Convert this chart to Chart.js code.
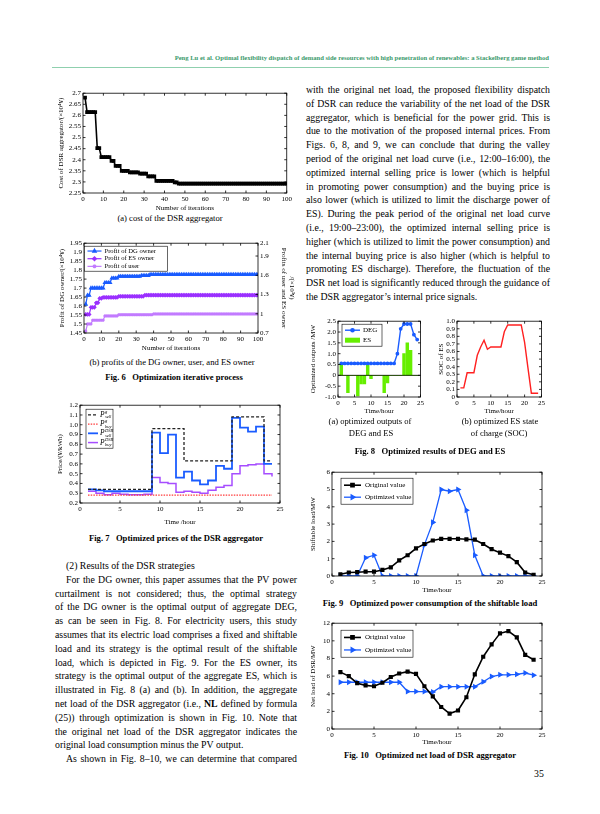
<!doctype html>
<html lang="en">
<head>
<meta charset="utf-8">
<title>DSR aggregator page</title>
<script src="https://cdn.jsdelivr.net/npm/chart.js"></script>
<style>
  body{margin:0;width:600px;height:814px;position:relative;overflow:hidden;background:#fff;
    font-family:"Liberation Serif","Times New Roman",serif;color:#000}
  canvas{position:absolute}
  #hdr{position:absolute;right:51px;top:54px;font-size:6.6px;line-height:8px;font-weight:bold;color:#3c9a6c;white-space:nowrap}
  #hline{position:absolute;left:52px;top:67px;width:497px;border-top:1px solid #8fd0ae}
  .cap{position:absolute;width:300px;margin-left:-150px;text-align:center;font-size:8.6px;line-height:10px;white-space:nowrap}
  .cap.b{font-weight:bold}
  .tx{position:absolute;font-size:9.8px;line-height:13.8px}
  .tx div{height:13.8px;text-align:justify;text-align-last:justify}
  .tx div.l{text-align-last:left}
  .tx div.i{text-indent:11px}
  #pg{position:absolute;left:534px;top:768px;font-size:9.8px}
</style>
</head>
<body>
<div id="hdr">Peng Lu et al. Optimal flexibility dispatch of demand side resources with high penetration of renewables: a Stackelberg game method</div>
<div id="hline"></div>

<canvas id="c6a"></canvas>
<div class="cap" style="left:170px;top:213px">(a) cost of the DSR aggregator</div>
<canvas id="c6b"></canvas>
<div class="cap" style="left:172px;top:357px">(b) profits of the DG owner, user, and ES owner</div>
<div class="cap b" style="left:174px;top:372px">Fig. 6&nbsp;&nbsp;&nbsp;Optimization iterative process</div>
<canvas id="c7"></canvas>
<div class="cap b" style="left:176px;top:533px">Fig. 7&nbsp;&nbsp;&nbsp;Optimized prices of the DSR aggregator</div>

<div class="tx" style="left:55px;top:559px;width:242px">
  <div class="i l">(2) Results of the DSR strategies</div>
  <div class="i">For the DG owner, this paper assumes that the PV power</div>
  <div>curtailment is not considered; thus, the optimal strategy</div>
  <div>of the DG owner is the optimal output of aggregate DEG,</div>
  <div>as can be seen in Fig. 8. For electricity users, this study</div>
  <div>assumes that its electric load comprises a fixed and shiftable</div>
  <div>load and its strategy is the optimal result of the shiftable</div>
  <div>load, which is depicted in Fig. 9. For the ES owner, its</div>
  <div>strategy is the optimal output of the aggregate ES, which is</div>
  <div>illustrated in Fig. 8 (a) and (b). In addition, the aggregate</div>
  <div>net load of the DSR aggregator (i.e., <b>NL</b> defined by formula</div>
  <div>(25)) through optimization is shown in Fig. 10. Note that</div>
  <div>the original net load of the DSR aggregator indicates the</div>
  <div class="l">original load consumption minus the PV output.</div>
  <div class="i">As shown in Fig. 8–10, we can determine that compared</div>
</div>

<div class="tx" style="left:306px;top:83px;width:244px">
  <div>with the original net load, the proposed flexibility dispatch</div>
  <div>of DSR can reduce the variability of the net load of the DSR</div>
  <div>aggregator, which is beneficial for the power grid. This is</div>
  <div>due to the motivation of the proposed internal prices. From</div>
  <div>Figs. 6, 8, and 9, we can conclude that during the valley</div>
  <div>period of the original net load curve (i.e., 12:00–16:00), the</div>
  <div>optimized internal selling price is lower (which is helpful</div>
  <div>in promoting power consumption) and the buying price is</div>
  <div>also lower (which is utilized to limit the discharge power of</div>
  <div>ES). During the peak period of the original net load curve</div>
  <div>(i.e., 19:00–23:00), the optimized internal selling price is</div>
  <div>higher (which is utilized to limit the power consumption) and</div>
  <div>the internal buying price is also higher (which is helpful to</div>
  <div>promoting ES discharge). Therefore, the fluctuation of the</div>
  <div>DSR net load is significantly reduced through the guidance of</div>
  <div class="l">the DSR aggregator’s internal price signals.</div>
</div>

<canvas id="c8a"></canvas>
<canvas id="c8b"></canvas>
<div class="cap" style="left:370px;top:416px">(a) optimized outputs of</div>
<div class="cap" style="left:371px;top:428px">DEG and ES</div>
<div class="cap" style="left:500px;top:416px">(b) optimized ES state</div>
<div class="cap" style="left:499px;top:428px">of charge (SOC)</div>
<div class="cap b" style="left:430px;top:446px">Fig. 8&nbsp;&nbsp;&nbsp;Optimized results of DEG and ES</div>
<canvas id="c9"></canvas>
<div class="cap b" style="left:430px;top:598px">Fig. 9&nbsp;&nbsp;&nbsp;Optimized power consumption of the shiftable load</div>
<canvas id="c10"></canvas>
<div class="cap b" style="left:430px;top:750px">Fig. 10&nbsp;&nbsp;&nbsp;Optimized net load of DSR aggregator</div>
<div id="pg">35</div>

<script>
// ---- data ----
const iterations = Array.from({length: 100}, (_, i) => i + 1);
const hours = [1,2,3,4,5,6,7,8,9,10,11,12,13,14,15,16,17,18,19,20,21,22,23,24];

// Fig 6(a) cost of the DSR aggregator (x10^4)
const costDSR = [
  2.68, 2.615, 2.615, 2.615, 2.615, 2.615, 2.452, 2.452, 2.412, 2.412,
  2.412, 2.412, 2.412, 2.395, 2.395, 2.372, 2.372, 2.372, 2.35, 2.35,
  2.35, 2.35, 2.343, 2.343, 2.343, 2.343, 2.343, 2.337, 2.337, 2.337,
  2.337, 2.325, 2.325, 2.325, 2.325, 2.305, 2.305, 2.305, 2.305, 2.305,
  2.305, 2.305, 2.305, 2.305, 2.298, 2.298, 2.292, 2.292, 2.292, 2.292,
  2.292, 2.292, 2.292, 2.292, 2.292, 2.292, 2.292, 2.292, 2.292, 2.292,
  2.292, 2.292, 2.292, 2.292, 2.292, 2.292, 2.292, 2.292, 2.292, 2.292,
  2.292, 2.292, 2.292, 2.292, 2.292, 2.292, 2.292, 2.292, 2.292, 2.292,
  2.292, 2.292, 2.292, 2.292, 2.292, 2.292, 2.292, 2.292, 2.292, 2.292,
  2.292, 2.292, 2.292, 2.292, 2.292, 2.292, 2.292, 2.292, 2.292, 2.292
];

// Fig 6(b) profits
const profitDG = [
  1.61, 1.66, 1.66, 1.70, 1.70, 1.70, 1.70, 1.70, 1.70, 1.70,
  1.70, 1.73, 1.73, 1.73, 1.73, 1.755, 1.755, 1.755, 1.755, 1.765,
  1.765, 1.765, 1.765, 1.765, 1.765, 1.765, 1.765, 1.765, 1.765, 1.765,
  1.765, 1.765, 1.77, 1.77, 1.77, 1.77, 1.77, 1.775, 1.775, 1.775,
  1.775, 1.775, 1.775, 1.775, 1.775, 1.775, 1.775, 1.775, 1.775, 1.775,
  1.775, 1.775, 1.775, 1.775, 1.775, 1.775, 1.775, 1.775, 1.775, 1.775,
  1.775, 1.775, 1.775, 1.775, 1.775, 1.775, 1.775, 1.775, 1.775, 1.775,
  1.775, 1.775, 1.775, 1.775, 1.775, 1.775, 1.775, 1.775, 1.775, 1.775,
  1.775, 1.775, 1.775, 1.775, 1.775, 1.775, 1.775, 1.775, 1.775, 1.775,
  1.775, 1.775, 1.775, 1.775, 1.775, 1.775, 1.775, 1.775, 1.775, 1.775
];
const profitES = [
  0.99, 0.99, 0.99, 1.10, 1.10, 1.10, 1.17, 1.17, 1.24, 1.24,
  1.255, 1.255, 1.255, 1.255, 1.255, 1.255, 1.255, 1.255, 1.255, 1.272,
  1.272, 1.272, 1.272, 1.272, 1.272, 1.272, 1.272, 1.272, 1.272, 1.272,
  1.272, 1.272, 1.272, 1.272, 1.29, 1.29, 1.29, 1.29, 1.29, 1.29,
  1.29, 1.29, 1.29, 1.29, 1.29, 1.29, 1.29, 1.29, 1.29, 1.29,
  1.29, 1.29, 1.29, 1.29, 1.29, 1.29, 1.29, 1.29, 1.29, 1.29,
  1.29, 1.29, 1.29, 1.29, 1.29, 1.29, 1.29, 1.29, 1.29, 1.29,
  1.29, 1.29, 1.29, 1.29, 1.29, 1.29, 1.29, 1.29, 1.29, 1.29,
  1.29, 1.29, 1.29, 1.29, 1.29, 1.29, 1.29, 1.29, 1.29, 1.29,
  1.29, 1.29, 1.29, 1.29, 1.29, 1.29, 1.29, 1.29, 1.29, 1.29
];
const profitUser = [
  0.73, 0.84, 0.84, 0.84, 0.90, 0.90, 0.90, 0.90, 0.90, 0.90,
  0.90, 0.965, 0.965, 0.965, 0.965, 0.965, 0.965, 0.965, 0.965, 0.985,
  0.985, 0.985, 0.985, 0.985, 0.985, 0.985, 0.985, 0.985, 0.985, 0.985,
  0.985, 0.985, 0.985, 0.985, 0.985, 0.985, 0.985, 0.985, 0.985, 0.995,
  0.995, 0.995, 0.995, 0.995, 0.995, 0.995, 0.995, 0.995, 0.995, 0.995,
  0.995, 0.995, 0.995, 0.995, 0.995, 0.995, 0.995, 0.995, 0.995, 0.995,
  0.995, 0.995, 0.995, 0.995, 0.995, 0.995, 0.995, 0.995, 0.995, 0.995,
  0.995, 0.995, 0.995, 0.995, 0.995, 0.995, 0.995, 0.995, 0.995, 0.995,
  0.995, 0.995, 0.995, 0.995, 0.995, 0.995, 0.995, 0.995, 0.995, 0.995,
  0.995, 0.995, 0.995, 0.995, 0.995, 0.995, 0.995, 0.995, 0.995, 0.995
];
const rightTicks6b = [0.7, 1, 1.3, 1.6, 1.9, 2.1];

// Fig 7 prices (stairs, per hour)
const sellGrid = [0.34,0.34,0.34,0.34,0.34,0.34,0.34,0.34,0.96,0.96,0.96,0.96,0.63,0.63,0.63,0.63,0.63,0.63,1.08,1.08,1.08,1.08,0.63,0.63];
const buyGrid  = [0.28,0.28,0.28,0.28,0.28,0.28,0.28,0.28,0.28,0.28,0.28,0.28,0.28,0.28,0.28,0.28,0.28,0.28,0.28,0.28,0.28,0.28,0.28,0.28];
const sellDSR  = [0.34,0.33,0.32,0.32,0.32,0.32,0.32,0.32,0.92,0.71,0.90,0.46,0.52,0.43,0.39,0.43,0.58,0.55,1.07,0.97,0.93,0.98,0.60,0.60];
const buyDSR   = [0.32,0.30,0.285,0.30,0.29,0.285,0.285,0.29,0.46,0.41,0.40,0.31,0.32,0.31,0.30,0.33,0.36,0.38,0.50,0.58,0.59,0.60,0.50,0.47];

// Fig 8 DEG / ES
const degOut = [0.55,0.55,0.55,0.55,0.55,0.55,0.55,0.55,0.55,0.55,0.55,0.55,0.55,0.55,0.55,0.55,0.55,1.0,2.15,2.37,2.37,2.37,1.88,1.65];
const esOut  = [0.55,0,-0.8,0,0,-0.95,-0.4,-0.4,0.55,-0.15,0,0,0,-0.8,-0.35,0,0,0,0,1.0,1.5,1.15,0,0];
const socES  = [0.12,0.12,0.32,0.32,0.32,0.55,0.66,0.75,0.63,0.66,0.66,0.66,0.66,0.86,0.95,0.95,0.95,0.95,0.95,0.72,0.38,0.05,0.05,0.05];

// Fig 9 shiftable load
const shiftOrig = [0.1,0.2,0.22,0.25,0.25,0.35,0.5,0.9,1.2,1.6,1.85,2.05,2.15,2.15,2.15,2.12,2.1,1.85,1.55,1.35,1.15,0.8,0.2,0.07];
const shiftOpt  = [0,0,0,1.05,1.2,0,0,0,0,0,1.8,3.1,5.0,4.9,5.0,3.8,1.2,0,0,0,0,0,0,0];

// Fig 10 net load
const netOrig = [6.45,6.0,5.2,4.95,4.85,5.25,5.9,6.3,6.5,6.25,4.85,3.7,2.5,1.75,2.1,3.6,6.2,8.2,9.6,10.85,11.1,10.4,8.4,7.85];
const netOpt  = [5.3,5.3,5.3,5.3,5.3,5.3,5.3,5.3,4.25,4.25,4.25,4.2,4.8,4.8,4.8,4.8,4.8,5.35,5.95,6.15,6.15,6.2,6.35,6.1];

// ---- common look ----
const SERIF = "'Liberation Serif','Times New Roman',serif";
Chart.defaults.font.family = SERIF;
Chart.defaults.font.size = 7;
Chart.defaults.color = '#000';
Chart.defaults.animation = false;
Chart.defaults.responsive = false;
Chart.defaults.plugins.legend.display = false;
Chart.defaults.plugins.tooltip.enabled = false;

const BLUE = '#1a5cff', PURPLE = '#9b30ff', LPURPLE = '#c27bff', GREEN = '#66ee00', RED = '#ff2020';

// matlab-ish box, inward ticks and in-plot legend
const mbox = {
  id: 'mbox',
  afterDatasetsDraw(chart, args, o) {
    const ctx = chart.ctx, a = chart.chartArea, tl = 2.5;
    const seg = (x1, y1, x2, y2) => { ctx.beginPath(); ctx.moveTo(x1, y1); ctx.lineTo(x2, y2); ctx.stroke(); };
    ctx.save();
    ctx.strokeStyle = '#000'; ctx.lineWidth = 0.8; ctx.setLineDash([]);
    if (o.zeroLine) {
      const yz = chart.scales.y.getPixelForValue(0);
      seg(a.left, yz, a.right, yz);
    }
    ctx.strokeRect(a.left, a.top, a.right - a.left, a.bottom - a.top);
    const xs = chart.scales.x, ys = chart.scales.y, y2 = chart.scales.y2;
    xs.ticks.forEach(t => { const p = xs.getPixelForValue(t.value); seg(p, a.bottom, p, a.bottom - tl); seg(p, a.top, p, a.top + tl); });
    ys.ticks.forEach(t => { const p = ys.getPixelForValue(t.value); seg(a.left, p, a.left + tl, p); if (!y2) seg(a.right, p, a.right - tl, p); });
    if (y2) y2.ticks.forEach(t => { const p = y2.getPixelForValue(t.value); seg(a.right, p, a.right - tl, p); });

    const lg = o.legend;
    if (lg) {
      const x0 = a.left + lg.x, y0 = a.top + lg.y;
      ctx.fillStyle = '#fff'; ctx.fillRect(x0, y0, lg.w, lg.h);
      ctx.lineWidth = 0.6; ctx.strokeRect(x0, y0, lg.w, lg.h);
      const rh = (lg.h - 2) / lg.items.length;
      lg.items.forEach((it, k) => {
        const ds = chart.data.datasets[it.ds];
        const cy = y0 + 1 + rh * (k + 0.5);
        const s0 = x0 + lg.s0, s1 = s0 + lg.len;
        if (ds.type === 'bar') {
          ctx.fillStyle = ds.backgroundColor; ctx.fillRect(s0, cy - 2.5, lg.len, 5);
        } else {
          ctx.strokeStyle = ds.borderColor; ctx.lineWidth = ds.borderWidth; ctx.setLineDash(ds.borderDash || []);
          seg(s0, cy, s1, cy); ctx.setLineDash([]);
          if (ds.pointRadius > 0) {
            ctx.fillStyle = ds.pointBackgroundColor; ctx.strokeStyle = ds.borderColor;
            Chart.helpers.drawPoint(ctx, {pointStyle: ds.pointStyle, radius: ds.pointRadius + 0.4,
              rotation: ds.pointRotation || 0, borderWidth: 1}, (s0 + s1) / 2, cy);
          }
        }
        ctx.fillStyle = '#000'; ctx.textBaseline = 'middle'; ctx.textAlign = 'left';
        const tx = s1 + lg.gap;
        if (it.text) {
          ctx.font = lg.font; ctx.fillText(it.text, tx, cy);
        } else {
          ctx.font = 'italic 7.5px ' + SERIF; ctx.fillText('P', tx, cy);
          ctx.font = 'italic 4.6px ' + SERIF;
          ctx.fillText(it.sup, tx + 5, cy - 2.8);
          ctx.fillText(it.sub, tx + 5, cy + 2.4);
        }
      });
    }
    ctx.restore();
  }
};

function place(id, plot, m) {
  const cv = document.getElementById(id);
  const W = plot[2] - plot[0] + m.l + m.r, H = plot[3] - plot[1] + m.t + m.b;
  cv.width = W; cv.height = H;
  cv.style.left = (plot[0] - m.l) + 'px'; cv.style.top = (plot[1] - m.t) + 'px';
  cv.style.width = W + 'px'; cv.style.height = H + 'px';
  return cv;
}
function xAxis(min, max, step, title, m) {
  return {
    type: 'linear', min, max, offset: false,
    grid: {display: false, drawTicks: false}, border: {display: false},
    ticks: {stepSize: step, padding: 2, autoSkip: false, maxRotation: 0},
    title: {display: true, text: title, padding: 0},
    afterFit(s) { s.height = m.b; }
  };
}
function yAxis(min, max, step, title, width, fmt, pos) {
  return {
    type: 'linear', position: pos || 'left', min, max,
    grid: {display: false, drawTicks: false}, border: {display: false},
    ticks: {stepSize: step, padding: 2, autoSkip: false, callback: fmt},
    title: {display: true, text: title, padding: 0},
    afterFit(s) { s.width = width; }
  };
}
const f2 = v => String(Math.round(v * 100) / 100);
const f1 = v => Math.abs(v) < 1e-9 ? '0' : v.toFixed(1);
const f1all = v => v.toFixed(1);
const pts = (xs, ys) => xs.map((x, i) => ({x, y: ys[i]}));
function lineDs(label, xs, ys, color, width, extra) {
  return Object.assign({label, data: pts(xs, ys), borderColor: color, backgroundColor: color,
    pointBackgroundColor: color, borderWidth: width, pointRadius: 0, tension: 0}, extra || {});
}

// ---- Fig 6(a) ----
{
  const plot = [83, 92, 287, 193], m = {l: 26, r: 7, t: 5, b: 19};
  new Chart(place('c6a', plot, m), {
    type: 'line',
    data: {datasets: [lineDs('cost', iterations, costDSR, '#000', 1.6,
      {pointRadius: 1.5, pointStyle: 'rect', borderWidth: 1.6})]},
    options: {
      layout: {padding: {top: m.t, right: m.r, left: 0, bottom: 0}},
      scales: {
        x: xAxis(0, 100, 10, 'Number of iterations', m),
        y: yAxis(2.25, 2.7, 0.05, 'Cost of DSR aggregator/(×10⁴¥)', m.l, f2)
      },
      plugins: {mbox: {}}
    },
    plugins: [mbox]
  });
}

// ---- Fig 6(b) ----
{
  const plot = [84, 242, 258, 333], m = {l: 26, r: 38, t: 5, b: 19};
  const y2 = yAxis(0.7, 2.1, 0.3, ['/(×10³¥)', 'Profits of user and ES owner'], m.r, f2, 'right');
  y2.afterBuildTicks = s => { s.ticks = rightTicks6b.map(v => ({value: v})); };
  new Chart(place('c6b', plot, m), {
    type: 'line',
    data: {datasets: [
      lineDs('Profit of DG owner', iterations, profitDG, BLUE, 1.2, {pointRadius: 1.6, pointStyle: 'triangle', yAxisID: 'y'}),
      lineDs('Profit of ES owner', iterations, profitES, PURPLE, 1.2, {pointRadius: 1.5, pointStyle: 'rectRot', yAxisID: 'y2'}),
      lineDs('Profit of user', iterations, profitUser, LPURPLE, 1.2, {pointRadius: 1.5, pointStyle: 'star', yAxisID: 'y2'})
    ]},
    options: {
      layout: {padding: {top: m.t, right: 0, left: 0, bottom: 0}},
      scales: {
        x: xAxis(0, 100, 10, 'Number of iterations', m),
        y: yAxis(1.45, 1.95, 0.05, 'Profit of DG owner/(×10⁴¥)', m.l, f2),
        y2
      },
      plugins: {mbox: {legend: {x: 0.5, y: 3, w: 83, h: 25, s0: 3, len: 14, gap: 3, font: '6.6px ' + SERIF,
        items: [{ds: 0, text: 'Profit of DG owner'}, {ds: 1, text: 'Profit of ES owner'}, {ds: 2, text: 'Profit of user'}]}}}
    },
    plugins: [mbox]
  });
}

// ---- Fig 7 ----
{
  const plot = [80, 404, 280, 503], m = {l: 24, r: 8, t: 5, b: 23};
  new Chart(place('c7', plot, m), {
    type: 'line',
    data: {datasets: [
      lineDs('sell g', hours, sellGrid, '#222', 1.3, {stepped: true, borderDash: [3, 2]}),
      lineDs('buy g', hours, buyGrid, '#ff3a3a', 1.3, {stepped: true, borderDash: [1.5, 1.2]}),
      lineDs('sell dsr', hours, sellDSR, BLUE, 1.8, {stepped: true}),
      lineDs('buy dsr', hours, buyDSR, '#a64dff', 1.5, {stepped: true})
    ]},
    options: {
      layout: {padding: {top: m.t, right: m.r, left: 0, bottom: 0}},
      scales: {
        x: xAxis(0, 25, 5, 'Time /hour', m),
        y: yAxis(0.2, 1.2, 0.1, 'Price/(¥/kWh)', m.l, f1all)
      },
      plugins: {mbox: {legend: {x: 6, y: 4, w: 27, h: 39, s0: 2, len: 10, gap: 2,
        items: [{ds: 0, sup: 'g', sub: 'sell'}, {ds: 1, sup: 'g', sub: 'buy'},
                {ds: 2, sup: 'DSR', sub: 'sell'}, {ds: 3, sup: 'DSR', sub: 'buy'}]}}}
    },
    plugins: [mbox]
  });
}

// ---- Fig 8(a) ----
{
  const plot = [338, 320, 422, 397], m = {l: 29, r: 4, t: 5, b: 18};
  new Chart(place('c8a', plot, m), {
    type: 'line',
    data: {datasets: [
      lineDs('DEG', hours, degOut, BLUE, 1.4, {pointRadius: 1.2, pointStyle: 'circle'}),
      {type: 'bar', label: 'ES', data: pts(hours, esOut), backgroundColor: GREEN, barThickness: 2.8, borderWidth: 0}
    ]},
    options: {
      layout: {padding: {top: m.t, right: m.r, left: 0, bottom: 0}},
      scales: {
        x: xAxis(0, 25, 5, 'Time/hour', m),
        y: yAxis(-1, 2.5, 0.5, 'Optimized outputs /MW', m.l, f1)
      },
      plugins: {mbox: {zeroLine: true, legend: {x: 4, y: 3, w: 40, h: 22, s0: 3, len: 15, gap: 3, font: '7px ' + SERIF,
        items: [{ds: 0, text: 'DEG'}, {ds: 1, text: 'ES'}]}}}
    },
    plugins: [mbox]
  });
}

// ---- Fig 8(b) ----
{
  const plot = [457, 320, 542, 397], m = {l: 20, r: 5, t: 5, b: 18};
  new Chart(place('c8b', plot, m), {
    type: 'line',
    data: {datasets: [lineDs('SOC', hours, socES, RED, 1.4)]},
    options: {
      layout: {padding: {top: m.t, right: m.r, left: 0, bottom: 0}},
      scales: {
        x: xAxis(0, 25, 5, 'Time/hour', m),
        y: yAxis(0, 1, 0.1, 'SOC of ES', m.l, f1)
      },
      plugins: {mbox: {}}
    },
    plugins: [mbox]
  });
}

// ---- Fig 9 ----
{
  const plot = [332, 471, 542, 576], m = {l: 23, r: 6, t: 5, b: 18};
  new Chart(place('c9', plot, m), {
    type: 'line',
    data: {datasets: [
      lineDs('Original value', hours, shiftOrig, '#000', 1.6, {pointRadius: 1.8, pointStyle: 'rect'}),
      lineDs('Optimized value', hours, shiftOpt, BLUE, 1.3, {pointRadius: 2.2, pointStyle: 'triangle', pointRotation: 90})
    ]},
    options: {
      layout: {padding: {top: m.t, right: m.r, left: 0, bottom: 0}},
      scales: {
        x: xAxis(0, 25, 5, 'Time/hour', m),
        y: yAxis(0, 6, 1, 'Shiftable load/MW', m.l)
      },
      plugins: {mbox: {legend: {x: 9, y: 6, w: 72, h: 26, s0: 3, len: 17, gap: 4, font: '7px ' + SERIF,
        items: [{ds: 0, text: 'Original value'}, {ds: 1, text: 'Optimized value'}]}}}
    },
    plugins: [mbox]
  });
}

// ---- Fig 10 ----
{
  const plot = [332, 622, 542, 729], m = {l: 23, r: 6, t: 5, b: 17};
  new Chart(place('c10', plot, m), {
    type: 'line',
    data: {datasets: [
      lineDs('Original value', hours, netOrig, '#000', 1.6, {pointRadius: 1.8, pointStyle: 'rect'}),
      lineDs('Optimized value', hours, netOpt, BLUE, 1.3, {pointRadius: 2.2, pointStyle: 'triangle', pointRotation: 90})
    ]},
    options: {
      layout: {padding: {top: m.t, right: m.r, left: 0, bottom: 0}},
      scales: {
        x: xAxis(0, 25, 5, 'Time/hour', m),
        y: yAxis(0, 12, 2, 'Net load of DSR/MW', m.l)
      },
      plugins: {mbox: {legend: {x: 9, y: 7, w: 72, h: 27, s0: 3, len: 17, gap: 4, font: '7px ' + SERIF,
        items: [{ds: 0, text: 'Original value'}, {ds: 1, text: 'Optimized value'}]}}}
    },
    plugins: [mbox]
  });
}
</script>
</body>
</html>
